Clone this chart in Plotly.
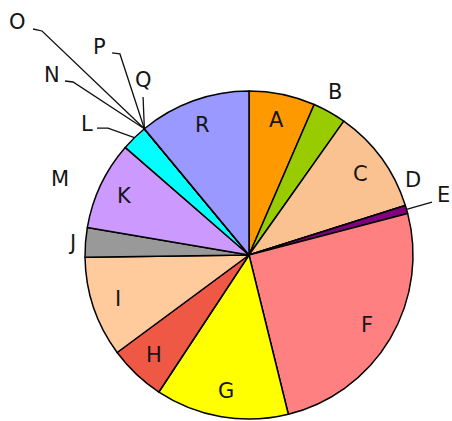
import math
import plotly.graph_objects as go

# ---------------- data ----------------
labels = ["A", "B", "C", "D", "E", "F", "G", "H", "I", "J",
          "K", "L", "M", "N", "O", "P", "Q", "R"]
values = [6.5, 3.3, 10.3, 0, 0.8, 25.2, 13.1, 5.6, 9.9, 2.9,
          8.7, 2.6, 0, 0, 0, 0, 0, 11.0]
colors = ["#FF9900", "#99CC00", "#F9C290", "#CC3300", "#800080", "#FF8080",
          "#FFFF00", "#EF5844", "#FFCA9C", "#999999", "#CC99FF", "#00FFFF",
          "#666666", "#666666", "#666666", "#666666", "#666666", "#9999FF"]

# ---------------- geometry / style ----------------
W, H = 452, 421
CX, CY, R = 249, 255, 164          # pie centre (px from top-left) and radius
FONT = dict(family="DejaVu Sans, Verdana, Arial", size=21, color="#151515")

inside_labels = {"A", "C", "F", "G", "H", "I", "K", "R"}
INSIDE_R = 0.84
# outside label placements, in radius units relative to the centre
outside_pos = {
    "B": (0.524, 0.994), "D": (1.000, 0.457), "E": (1.183, 0.366),
    "J": (-1.079, 0.073), "M": (-1.152, 0.463), "L": (-0.988, 0.799),
    "N": (-1.201, 1.098), "O": (-1.409, 1.421), "P": (-0.909, 1.268),
    "Q": (-0.646, 1.067),
}
# leader-line bends (after the slice anchor), in radius units
leader_bends = {
    "E": [(1.116, 0.323)],
    "L": [(-0.860, 0.774), (-0.927, 0.774)],
    "N": [(-1.073, 1.055), (-1.122, 1.061)],
    "O": [(-1.262, 1.366), (-1.317, 1.378)],
    "P": [(-0.787, 1.226), (-0.835, 1.232)],
    "Q": [(-0.646, 0.963)],
}

total = sum(values)
mid_angle = {}
acc = 0.0
for lab, v in zip(labels, values):
    a0 = acc / total * 360.0
    acc += v
    a1 = acc / total * 360.0
    mid_angle[lab] = math.radians((a0 + a1) / 2.0)


def polar(ang, r):
    # clockwise from 12 o'clock
    return r * math.sin(ang), r * math.cos(ang)


fig = go.Figure()

# leader lines (drawn below the pie; they begin at its rim)
for lab, bends in leader_bends.items():
    ax, ay = polar(mid_angle[lab], 1.0)
    xs = [ax] + [b[0] for b in bends]
    ys = [ay] + [b[1] for b in bends]
    fig.add_trace(go.Scatter(x=xs, y=ys, mode="lines",
                             line=dict(color="#111111", width=1.3),
                             hoverinfo="skip", showlegend=False))

fig.add_trace(go.Pie(
    labels=labels, values=values, sort=False, direction="clockwise",
    rotation=0, textinfo="none", hoverinfo="label+value",
    marker=dict(colors=colors, line=dict(color="#000000", width=1.5)),
    domain=dict(x=[(CX - R) / W, (CX + R) / W],
                y=[(H - CY - R) / H, (H - CY + R) / H]),
    showlegend=False,
))

annotations = []
for lab in labels:
    if lab in inside_labels:
        x, y = polar(mid_angle[lab], INSIDE_R)
    else:
        x, y = outside_pos[lab]
    annotations.append(dict(x=x, y=y, xref="x", yref="y", text=lab,
                            showarrow=False, font=FONT,
                            xanchor="center", yanchor="middle"))

fig.update_layout(
    width=W, height=H,
    margin=dict(l=0, r=0, t=0, b=0),
    paper_bgcolor="white", plot_bgcolor="rgba(0,0,0,0)",
    xaxis=dict(range=[-CX / R, (W - CX) / R], visible=False, fixedrange=True),
    yaxis=dict(range=[-(H - CY) / R, CY / R], visible=False, fixedrange=True),
    annotations=annotations,
)

fig.write_html(
    "out.html",
    config={"displayModeBar": False},
    post_script="document.body.style.margin='0';"
                "document.body.style.overflow='hidden';",
)
